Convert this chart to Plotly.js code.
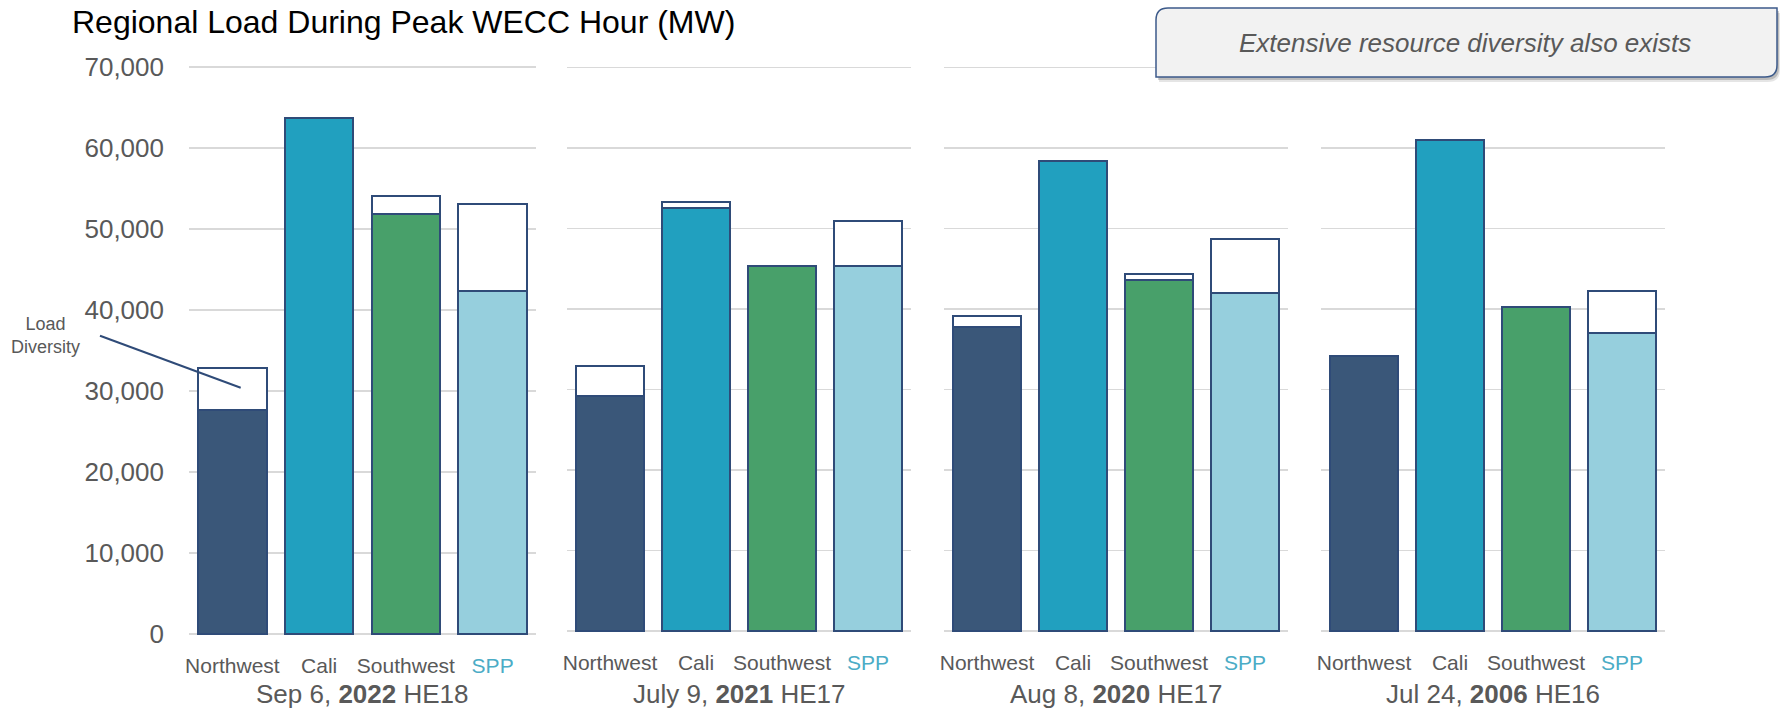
<!DOCTYPE html>
<html>
<head>
<meta charset="utf-8">
<script src="https://cdn.plot.ly/plotly-3.0.1.min.js"></script>
<style>
  html, body { margin: 0; padding: 0; background: #ffffff; }
  #chart { width: 1782px; height: 710px; }
</style>
</head>
<body>
<div id="chart"></div>
<script>
// Regional loads (MW) at the WECC peak hour, one group per peak day.
const regions = ["Northwest", "Cali", "Southwest", "SPP"];
const regionLabels = ["Northwest", "Cali", "Southwest", "<span style=\"color:#4bacc6\">SPP</span>"];
const peakLabels = ["Sep 6, <b>2022</b> HE18", "July 9, <b>2021</b> HE17", "Aug 8, <b>2020</b> HE17", "Jul 24, <b>2006</b> HE16"];

// Coincident load during the WECC peak hour
const load2022 = [27700, 63700, 51800, 42350];
const load2021 = [29150, 52500, 45300, 45300];
const load2020 = [37700, 58350, 43600, 41950];
const load2006 = [34150, 60950, 40250, 36950];

// Each region's own peak load (top of the outlined box)
const peak2022 = [32850, 63700, 54050, 53080];
const peak2021 = [32900, 53250, 45300, 50950];
const peak2020 = [39050, 58350, 44300, 48700];
const peak2006 = [34150, 60950, 40250, 42250];

const yTicks = [0, 10000, 20000, 30000, 40000, 50000, 60000, 70000];

const regionColors = ["#3a5779", "#21a0bf", "#48a06a", "#96cfdd"];
const outline = "#2f4b78";
const textGrey = "#595959";
const fontFamily = "Liberation Sans, Arial, sans-serif";

const W = 1782, H = 710;
const px = v => v / W;
const py = v => 1 - v / H;

const groups = [
  { load: load2022, peak: peak2022, xa: "x",  ya: "y"  },
  { load: load2021, peak: peak2021, xa: "x2", ya: "y2" },
  { load: load2020, peak: peak2020, xa: "x3", ya: "y2" },
  { load: load2006, peak: peak2006, xa: "x4", ya: "y2" }
];

const traces = [];
groups.forEach(g => {
  traces.push({
    type: "bar", x: regions, y: g.load, xaxis: g.xa, yaxis: g.ya,
    marker: { color: regionColors, line: { color: outline, width: 2 } },
    hoverinfo: "x+y"
  });
  traces.push({
    type: "bar", x: regions,
    y: g.peak.map((p, i) => (p - g.load[i] > 0 ? p - g.load[i] : null)),
    xaxis: g.xa, yaxis: g.ya,
    marker: { color: "#ffffff", line: { color: outline, width: 2 } },
    hoverinfo: "x+y"
  });
});

// Panel extents in pixels
const panels = [[189, 536], [567, 911], [944, 1288], [1321, 1665]];
const yRange = [-300, 70500];

function xAxis(i, anchor) {
  return {
    domain: [px(panels[i][0]), px(panels[i][1])],
    anchor: anchor,
    type: "category",
    tickvals: regions,
    ticktext: regionLabels,
    showgrid: false, showline: false, zeroline: false,
    ticks: "", ticklabelstandoff: 15,
    tickfont: { family: fontFamily, size: 21, color: textGrey },
    fixedrange: true
  };
}

const gridStyle = { showgrid: true, gridcolor: "#d9d9d9", gridwidth: 1.5, zeroline: false, showline: false, range: yRange, tickvals: yTicks, fixedrange: true };

// Call-out box with rounded top-left and bottom-right corners
const bx0 = 1156, bx1 = 1777, by0 = 8, by1 = 77, r = 12;
function boxPath(dx, dy) {
  const X0 = px(bx0 + dx), X1 = px(bx1 + dx), Yt = py(by0 + dy), Yb = py(by1 + dy);
  const rx = r / W, ry = r / H;
  return `M ${X0 + rx} ${Yt} L ${X1} ${Yt} L ${X1} ${Yb + ry} Q ${X1} ${Yb} ${X1 - rx} ${Yb} ` +
         `L ${X0} ${Yb} L ${X0} ${Yt - ry} Q ${X0} ${Yt} ${X0 + rx} ${Yt} Z`;
}

const layout = {
  width: W, height: H,
  margin: { l: 0, r: 0, t: 0, b: 0 },
  paper_bgcolor: "#ffffff", plot_bgcolor: "rgba(0,0,0,0)",
  barmode: "stack", bargap: 0.21,
  showlegend: false,
  font: { family: fontFamily, color: textGrey },
  xaxis: xAxis(0, "y"),
  xaxis2: xAxis(1, "y2"),
  xaxis3: xAxis(2, "y2"),
  xaxis4: xAxis(3, "y2"),
  yaxis: Object.assign({}, gridStyle, {
    domain: [py(636.4), py(62.95)], anchor: "x",
    tickformat: ",d", ticks: "", ticklabelstandoff: 24,
    tickfont: { family: fontFamily, size: 26, color: textGrey }
  }),
  yaxis2: Object.assign({}, gridStyle, {
    domain: [py(633.2), py(63.3)], anchor: "x2",
    showticklabels: false, ticks: ""
  }),
  shapes: [
    { type: "path", xref: "paper", yref: "paper", path: boxPath(3, 5), fillcolor: "rgba(0,0,0,0.10)", line: { width: 0 }, layer: "below" },
    { type: "path", xref: "paper", yref: "paper", path: boxPath(2, 3), fillcolor: "rgba(0,0,0,0.18)", line: { width: 0 }, layer: "below" },
    { type: "path", xref: "paper", yref: "paper", path: boxPath(0, 0), fillcolor: "#f2f2f2", line: { color: "#3c5a8a", width: 1.5 }, layer: "above" },
    { type: "line", xref: "paper", yref: "paper", x0: px(100), y0: py(335.7), x1: px(240.7), y1: py(387.7), line: { color: outline, width: 2 }, layer: "above" }
  ],
  annotations: [
    { xref: "paper", yref: "paper", x: px(70), y: py(22), xanchor: "left", yanchor: "middle", showarrow: false,
      text: "Regional Load During Peak WECC Hour (MW)",
      font: { family: fontFamily, size: 32, color: "#000000" } },
    { xref: "paper", yref: "paper", x: px(1465), y: py(43), xanchor: "center", yanchor: "middle", showarrow: false,
      text: "<i>Extensive resource diversity also exists</i>",
      font: { family: fontFamily, size: 26, color: textGrey } },
    { xref: "paper", yref: "paper", x: px(45), y: py(335), xanchor: "center", yanchor: "middle", showarrow: false,
      text: "Load<br>Diversity",
      font: { family: fontFamily, size: 18, color: textGrey } }
  ].concat(peakLabels.map((t, i) => ({
    xref: "paper", yref: "paper", x: px((panels[i][0] + panels[i][1]) / 2), y: py(694),
    xanchor: "center", yanchor: "middle", showarrow: false, text: t,
    font: { family: fontFamily, size: 26, color: textGrey }
  })))
};

Plotly.newPlot("chart", traces, layout, { displayModeBar: false, staticPlot: true });
</script>
</body>
</html>
